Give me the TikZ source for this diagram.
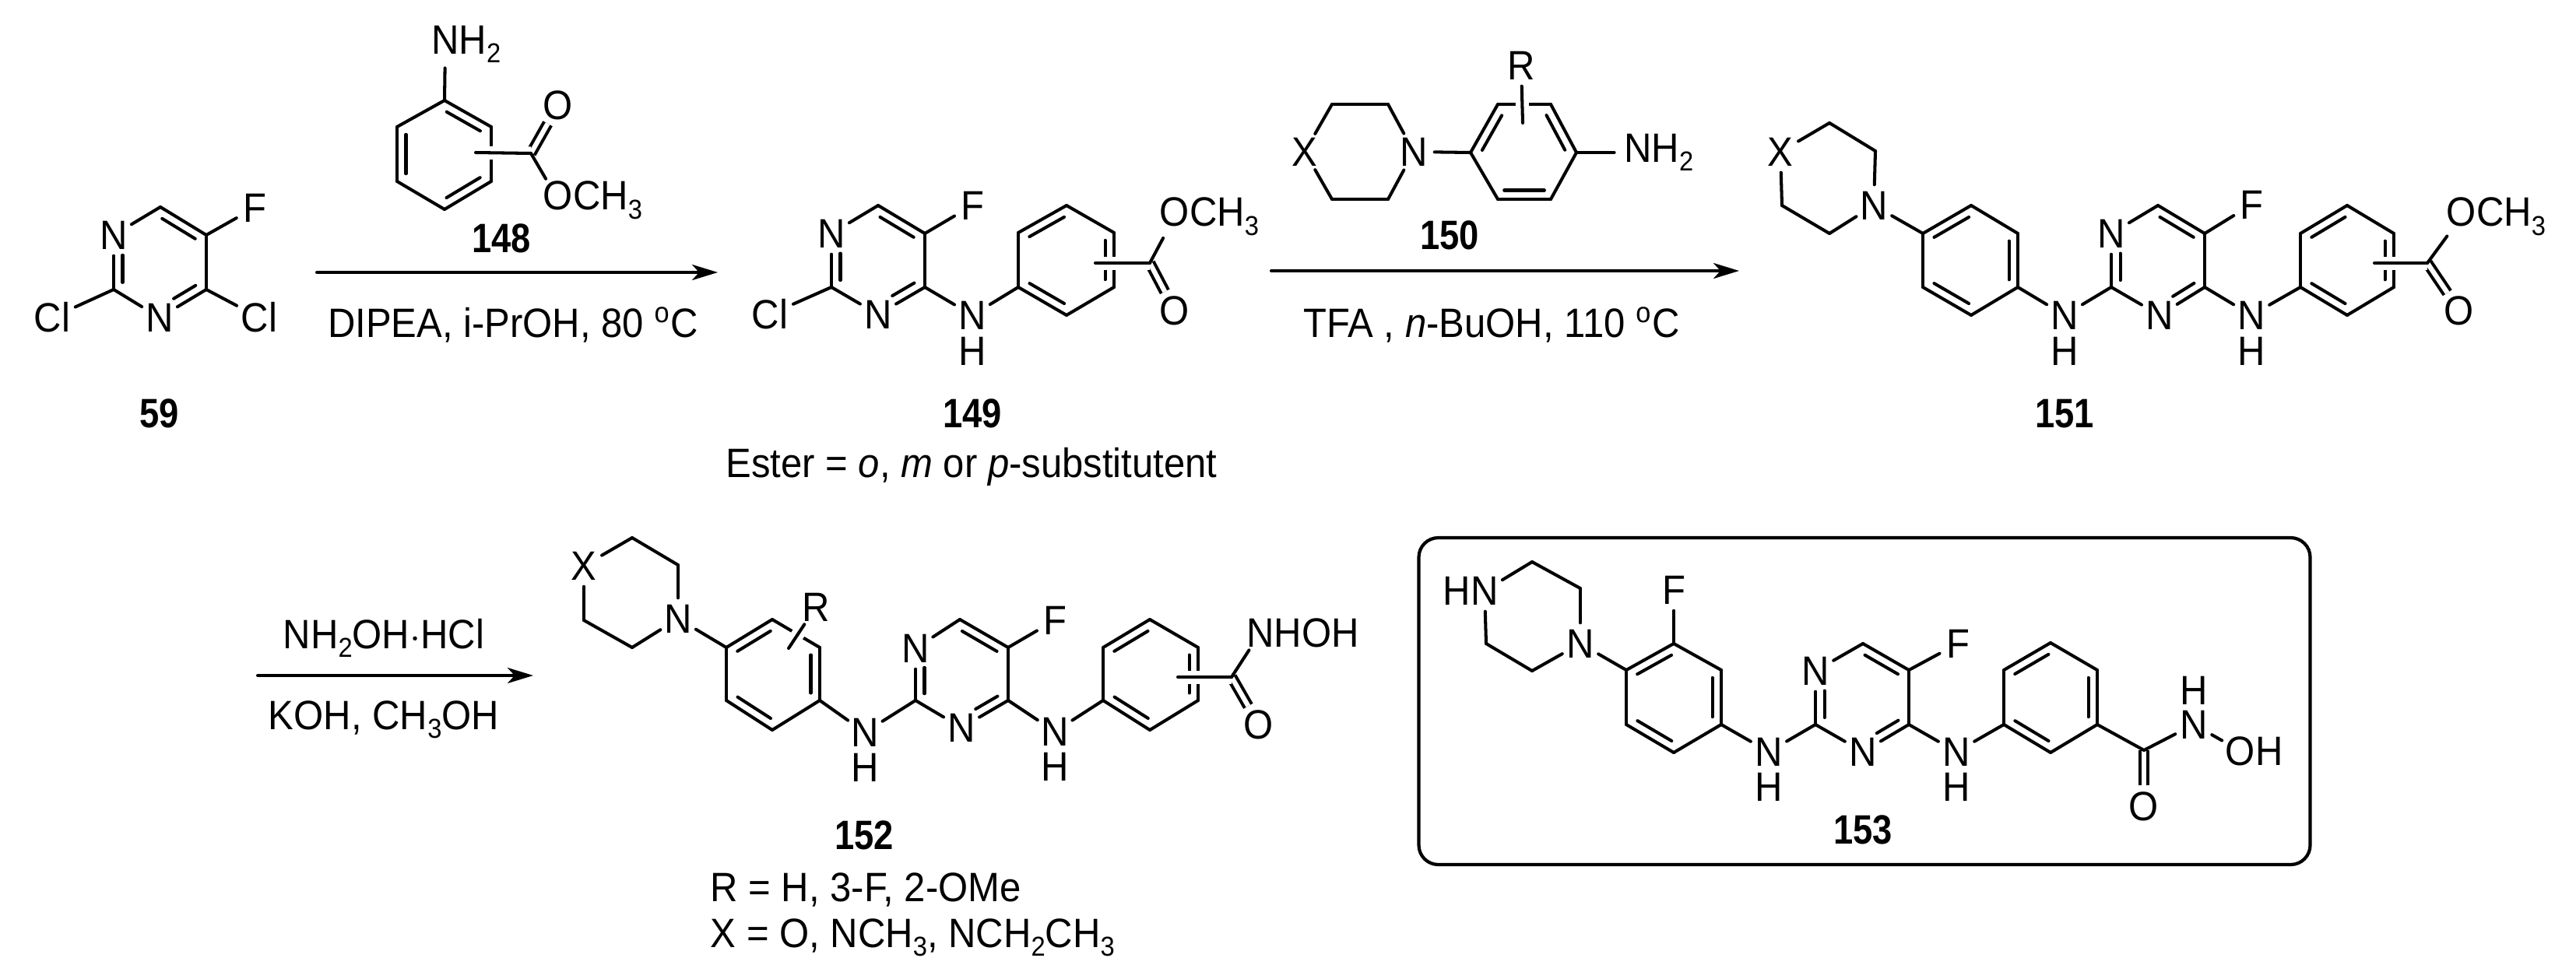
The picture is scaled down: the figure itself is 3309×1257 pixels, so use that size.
\documentclass[tikz,border=0pt]{standalone}
\usepackage{fontspec}
\setmainfont{Liberation Sans}[FakeStretch=.93]
\newfontface\numfont{Liberation Sans Bold}[FakeStretch=.86]
\usetikzlibrary{arrows.meta,calc}
\tikzset{
    atom/.style={
           circle,
           inner sep=0pt,
           minimum size=5.2mm,
           },
    clatom/.style={atom, minimum size=6.4mm},
    hatom/.style={inner sep=0pt},
    txt/.style={inner sep=0pt, anchor=base},
    num/.style={txt, font=\fontsize{15}{17}\numfont},
    bond/.style={line width=1.15pt, line cap=round},
    front/.style={bond, preaction={draw=white, line width=1.7mm, line cap=butt}},
    dbond/.style={line width=1.15pt, double, double distance=.62mm},
}
% subscripts in formulas
\newcommand{\sbs}[1]{\raisebox{-.22em}{\fontsize{10}{10}\selectfont #1}}
% second line of a double bond, on the left of the way from #1 to #2
\newcommand{\innerbond}[4]{\draw[bond] ($(#1)!#3!(#2)!1.15mm!90:(#2)$) -- ($(#2)!#4!(#1)!1.15mm!-90:(#1)$);}
% rings, named by the prefix
\newcommand{\phenyl}[1]{\path[bond] (#1t) edge (#1ul) (#1ul) edge (#1ll) (#1ll) edge (#1b) (#1b) edge (#1lr) (#1lr) edge (#1ur) (#1ur) edge (#1t);
  \innerbond{#1t}{#1ul}{.14}{.14}\innerbond{#1ll}{#1b}{.14}{.14}\innerbond{#1lr}{#1ur}{.14}{.14}}
\newcommand{\pyrimidine}[1]{\path[bond] (#1c6) edge (#1n1) (#1n1) edge (#1c2) (#1c2) edge (#1n3) (#1n3) edge (#1c4) (#1c4) edge (#1c5) (#1c5) edge (#1c6);
  \innerbond{#1n1}{#1c2}{.37}{.13}\innerbond{#1n3}{#1c4}{.4}{.13}\innerbond{#1c5}{#1c6}{.14}{.14}}
\begin{document}
\begin{tikzpicture}[x=.1mm, y=-.1mm, >={Stealth[length=3.3mm,width=2mm,inset=.9mm]},
    every node/.style={font=\fontsize{15}{17}\selectfont}]
  \useasboundingbox (0,0) rectangle (3309,1257);

  % 59
  \coordinate (PY59c6) at (206,266);
  \coordinate (PY59c5) at (265,302);
  \coordinate (PY59c4) at (265,372);
  \coordinate (PY59c2) at (146,372);
  \node[atom] (PY59n1) at (146,302) {N};
  \node[atom] (PY59n3) at (205,408) {N};
  \node[atom] (F59) at (327,267) {F};
  \node[clatom] (CLa59) at (67,408) {Cl};
  \node[clatom] (CLb59) at (333,408) {Cl};
  \pyrimidine{PY59}
  \path[bond]
  (PY59c5) edge (F59)
  (PY59c4) edge (CLb59)
  (PY59c2) edge (CLa59)
  ;
  \node[num] (L59) at (205,549) {59};

  % 148
  \coordinate (B148t) at (571,129);
  \coordinate (B148ur) at (631,163);
  \coordinate (B148lr) at (631,233);
  \coordinate (B148b) at (571,269);
  \coordinate (B148ll) at (510,233);
  \coordinate (B148ul) at (510,163);
  \path[bond]
  (B148t) edge (B148ul)
  (B148ul) edge (B148ll)
  (B148ll) edge (B148b)
  (B148b) edge (B148lr)
  (B148lr) edge (B148ur)
  (B148ur) edge (B148t)
  ;
  \innerbond{B148ur}{B148t}{.14}{.14}
  \innerbond{B148ul}{B148ll}{.14}{.14}
  \innerbond{B148b}{B148lr}{.14}{.14}
  \node[atom] (N148) at (572,57) {N\rlap{H\sbs{2}}};
  \coordinate (S148) at (611,196);
  \coordinate (C148) at (682,197);
  \node[atom] (Oa148) at (717,135) {O};
  \node[atom] (Ob148) at (717,257) {O\rlap{CH\sbs{3}}};
  \draw[bond] (B148t) -- (N148);
  \draw[dbond] (C148) -- (Oa148);
  \draw[front] (S148) -- (C148);
  \draw[bond] (C148) -- (Ob148);
  \node[num] (L148) at (644,324) {148};

  % first arrow
  \coordinate (ARa) at (407,350);
  \coordinate (ARb) at (922,350);
  \draw[->, bond] (ARa) -- (ARb);
  \node[txt] (Ta) at (659,433) {DIPEA, i-PrOH, 80 \textsuperscript{o}C};

  % 149
  \coordinate (PY149c6) at (1128,264);
  \coordinate (PY149c5) at (1188,300);
  \coordinate (PY149c4) at (1188,369);
  \coordinate (PY149c2) at (1068,369);
  \node[atom] (PY149n1) at (1068,300) {N};
  \node[atom] (PY149n3) at (1128,404) {N};
  \node[atom] (F149) at (1249,264) {F};
  \node[clatom] (CL149) at (989,404) {Cl};
  \node[atom] (NH149) at (1249,405) {N};
  \node[hatom, below of=NH149, node distance=4.6mm] (H149) {H};
  \pyrimidine{PY149}
  \coordinate (B149t) at (1370,264);
  \coordinate (B149ur) at (1431,299);
  \coordinate (B149lr) at (1431,369);
  \coordinate (B149b) at (1370,405);
  \coordinate (B149ll) at (1308,369);
  \coordinate (B149ul) at (1308,299);
  \phenyl{B149}
  \coordinate (S149) at (1407,338);
  \coordinate (C149) at (1477,338);
  \node[atom] (Oa149) at (1509,278) {O\rlap{CH\sbs{3}}};
  \node[atom] (Ob149) at (1509,399) {O};
  \path[bond]
  (PY149c5) edge (F149)
  (PY149c2) edge (CL149)
  (PY149c4) edge (NH149)
  (NH149) edge (B149ll)
  ;
  \draw[dbond] (C149) -- (Ob149);
  \draw[front] (S149) -- (C149);
  \draw[bond] (C149) -- (Oa149);
  \node[num] (L149) at (1249,549) {149};
  \node[txt] (Tb) at (1248,613) {Ester = \textit{o}, \textit{m} or \textit{p}-substitutent};

  % 150
  \node[atom] (X150) at (1676,195) {X};
  \node[atom] (N150) at (1816,195) {N};
  \coordinate (P150a) at (1711,134);
  \coordinate (P150b) at (1783,134);
  \coordinate (P150c) at (1783,256);
  \coordinate (P150d) at (1711,256);
  \coordinate (B150l) at (1889,196);
  \coordinate (B150ul) at (1924,134);
  \coordinate (B150ur) at (1992,134);
  \coordinate (B150r) at (2025,196);
  \coordinate (B150lr) at (1992,256);
  \coordinate (B150ll) at (1924,256);
  \path[bond]
  (X150) edge (P150a)
  (P150a) edge (P150b)
  (P150b) edge (N150)
  (N150) edge (P150c)
  (P150c) edge (P150d)
  (P150d) edge (X150)
  (N150) edge (B150l)
  (B150l) edge (B150ll)
  (B150ll) edge (B150lr)
  (B150lr) edge (B150r)
  (B150r) edge (B150ur)
  (B150ur) edge (B150ul)
  (B150ul) edge (B150l)
  ;
  \innerbond{B150ul}{B150l}{.14}{.14}
  \innerbond{B150ll}{B150lr}{.12}{.12}
  \innerbond{B150r}{B150ur}{.14}{.14}
  \node[atom] (NH150) at (2104,196) {N\rlap{H\sbs{2}}};
  \node[atom] (R150) at (1954,84) {R};
  \coordinate (S150) at (1956,158);
  \draw[bond] (B150r) -- (NH150);
  \draw[front] (S150) -- (R150);
  \node[num] (L150) at (1862,320) {150};

  % second arrow
  \coordinate (ARc) at (1633,348);
  \coordinate (ARd) at (2234,348);
  \draw[->, bond] (ARc) -- (ARd);
  \node[txt] (Tc) at (1916,433) {TFA , \textit{n}-BuOH, 110 \textsuperscript{o}C};

  % 151
  \node[atom] (X151) at (2287,195) {X};
  \coordinate (P151a) at (2350,158);
  \coordinate (P151b) at (2409,194);
  \node[atom] (N151) at (2407,264) {N};
  \coordinate (P151c) at (2350,300);
  \coordinate (P151d) at (2289,264);
  \coordinate (A151t) at (2532,264);
  \coordinate (A151ur) at (2592,300);
  \coordinate (A151lr) at (2592,369);
  \coordinate (A151b) at (2532,405);
  \coordinate (A151ll) at (2470,369);
  \coordinate (A151ul) at (2470,300);
  \phenyl{A151}
  \node[atom] (NHa151) at (2652,405) {N};
  \node[hatom, below of=NHa151, node distance=4.6mm] (Ha151) {H};
  \coordinate (PY151c6) at (2772,264);
  \coordinate (PY151c5) at (2832,300);
  \coordinate (PY151c4) at (2832,369);
  \coordinate (PY151c2) at (2712,369);
  \node[atom] (PY151n1) at (2712,300) {N};
  \node[atom] (PY151n3) at (2774,405) {N};
  \pyrimidine{PY151}
  \node[atom] (F151) at (2892,263) {F};
  \node[atom] (NHb151) at (2892,405) {N};
  \node[hatom, below of=NHb151, node distance=4.6mm] (Hb151) {H};
  \coordinate (B151t) at (3015,264);
  \coordinate (B151ur) at (3075,300);
  \coordinate (B151lr) at (3075,369);
  \coordinate (B151b) at (3015,405);
  \coordinate (B151ll) at (2955,369);
  \coordinate (B151ul) at (2955,300);
  \phenyl{B151}
  \coordinate (S151) at (3050,338);
  \coordinate (C151) at (3118,338);
  \node[atom] (Oa151) at (3162,278) {O\rlap{CH\sbs{3}}};
  \node[atom] (Ob151) at (3159,399) {O};
  \path[bond]
  (X151) edge (P151a)
  (P151a) edge (P151b)
  (P151b) edge (N151)
  (N151) edge (P151c)
  (P151c) edge (P151d)
  (P151d) edge (X151)
  (N151) edge (A151ul)
  (A151lr) edge (NHa151)
  (NHa151) edge (PY151c2)
  (PY151c5) edge (F151)
  (PY151c4) edge (NHb151)
  (NHb151) edge (B151ll)
  ;
  \draw[dbond] (C151) -- (Ob151);
  \draw[front] (S151) -- (C151);
  \draw[bond] (C151) -- (Oa151);
  \node[num] (L151) at (2652,549) {151};

  % third arrow
  \coordinate (ARe) at (331,868);
  \coordinate (ARf) at (685,868);
  \draw[->, bond] (ARe) -- (ARf);
  \node[txt] (Td) at (493,833) {NH\sbs{2}OH$\cdot$HCl};
  \node[txt] (Te) at (493,937) {KOH, CH\sbs{3}OH};

  % 152
  \node[atom] (X152) at (750,727) {X};
  \coordinate (P152a) at (812,691);
  \coordinate (P152b) at (871,726);
  \node[atom] (N152) at (871,795) {N};
  \coordinate (P152c) at (812,832);
  \coordinate (P152d) at (750,797);
  \coordinate (A152t) at (992,796);
  \coordinate (A152ur) at (1053,832);
  \coordinate (A152lr) at (1053,900);
  \coordinate (A152b) at (992,938);
  \coordinate (A152ll) at (933,900);
  \coordinate (A152ul) at (933,832);
  \phenyl{A152}
  \node[atom] (R152) at (1048,780) {R};
  \coordinate (S152) at (1013,833);
  \draw[front] (S152) -- (R152);
  \node[atom] (NHa152) at (1111,941) {N};
  \node[hatom, below of=NHa152, node distance=4.5mm] (Ha152) {H};
  \coordinate (PY152c6) at (1233,796);
  \coordinate (PY152c5) at (1295,832);
  \coordinate (PY152c4) at (1295,900);
  \coordinate (PY152c2) at (1176,900);
  \node[atom] (PY152n1) at (1176,833) {N};
  \node[atom] (PY152n3) at (1235,935) {N};
  \pyrimidine{PY152}
  \node[atom] (F152) at (1355,797) {F};
  \node[atom] (NHb152) at (1355,940) {N};
  \node[hatom, below of=NHb152, node distance=4.5mm] (Hb152) {H};
  \coordinate (B152t) at (1477,796);
  \coordinate (B152ur) at (1539,832);
  \coordinate (B152lr) at (1539,900);
  \coordinate (B152b) at (1477,938);
  \coordinate (B152ll) at (1417,900);
  \coordinate (B152ul) at (1417,832);
  \phenyl{B152}
  \coordinate (S152b) at (1513,870);
  \coordinate (C152) at (1582,870);
  \node[atom] (Na152) at (1619,813) {N\rlap{HOH}};
  \node[atom] (O152) at (1617,931) {O};
  \path[bond]
  (X152) edge (P152a)
  (P152a) edge (P152b)
  (P152b) edge (N152)
  (N152) edge (P152c)
  (P152c) edge (P152d)
  (P152d) edge (X152)
  (N152) edge (A152ul)
  (A152lr) edge (NHa152)
  (NHa152) edge (PY152c2)
  (PY152c5) edge (F152)
  (PY152c4) edge (NHb152)
  (NHb152) edge (B152ll)
  ;
  \draw[dbond] (C152) -- (O152);
  \draw[front] (S152b) -- (C152);
  \draw[bond] (C152) -- (Na152);
  \node[num] (L152) at (1110,1091) {152};
  \node[txt, anchor=base west] (Tf) at (912,1158) {R = H, 3-F, 2-OMe};
  \node[txt, anchor=base west] (Tg) at (912,1217) {X = O, NCH\sbs{3}, NCH\sbs{2}CH\sbs{3}};

  % 153, in its box
  \node[draw, line width=1.2pt, rounded corners=2.5mm, minimum width=114.5mm, minimum height=42mm] (BOX) at (2395,901) {};
  \node[atom] (NH153) at (1907,759) {\llap{H}N};
  \coordinate (P153a) at (1968,722);
  \coordinate (P153b) at (2030,756);
  \node[atom] (N153) at (2030,827) {N};
  \coordinate (P153c) at (1968,862);
  \coordinate (P153d) at (1909,827);
  \coordinate (A153t) at (2150,827);
  \coordinate (A153ur) at (2211,861);
  \coordinate (A153lr) at (2211,931);
  \coordinate (A153b) at (2150,967);
  \coordinate (A153ll) at (2089,931);
  \coordinate (A153ul) at (2089,861);
  \phenyl{A153}
  \node[atom] (Fa153) at (2150,758) {F};
  \node[atom] (NHa153) at (2272,966) {N};
  \node[hatom, below of=NHa153, node distance=4.5mm] (Ha153) {H};
  \coordinate (PY153c6) at (2393,827);
  \coordinate (PY153c5) at (2452,861);
  \coordinate (PY153c4) at (2452,931);
  \coordinate (PY153c2) at (2332,931);
  \node[atom] (PY153n1) at (2332,862) {N};
  \node[atom] (PY153n3) at (2393,966) {N};
  \pyrimidine{PY153}
  \node[atom] (Fb153) at (2515,827) {F};
  \node[atom] (NHb153) at (2513,966) {N};
  \node[hatom, below of=NHb153, node distance=4.5mm] (Hb153) {H};
  \coordinate (B153t) at (2634,826);
  \coordinate (B153ur) at (2694,861);
  \coordinate (B153lr) at (2694,931);
  \coordinate (B153b) at (2634,967);
  \coordinate (B153ll) at (2574,931);
  \coordinate (B153ul) at (2574,861);
  \phenyl{B153}
  \coordinate (C153) at (2754,964);
  \node[atom] (O153) at (2754,1036) {O};
  \node[atom] (Nc153) at (2818,931) {N};
  \node[hatom, above of=Nc153, node distance=4.4mm] (Hc153) {H};
  \node[atom] (OH153) at (2878,965) {O\rlap{H}};
  \draw[dbond] (C153) -- (O153);
  \path[bond]
  (NH153) edge (P153a)
  (P153a) edge (P153b)
  (P153b) edge (N153)
  (N153) edge (P153c)
  (P153c) edge (P153d)
  (P153d) edge (NH153)
  (N153) edge (A153ul)
  (A153t) edge (Fa153)
  (A153lr) edge (NHa153)
  (NHa153) edge (PY153c2)
  (PY153c5) edge (Fb153)
  (PY153c4) edge (NHb153)
  (NHb153) edge (B153ll)
  (B153lr) edge (C153)
  (C153) edge (Nc153)
  (Nc153) edge (OH153)
  ;
  \node[num] (L153) at (2393,1084) {153};
\end{tikzpicture}
\end{document}
